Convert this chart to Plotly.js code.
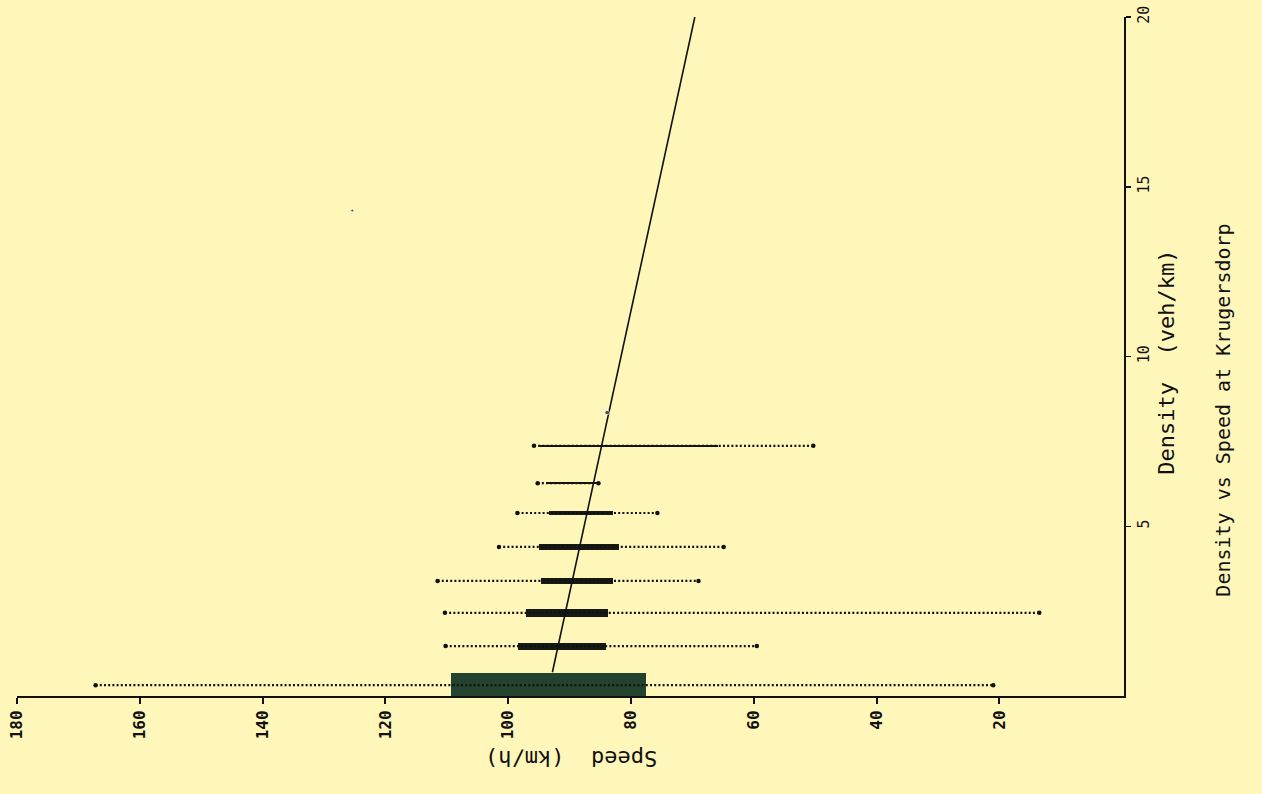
<!DOCTYPE html>
<html>
<head>
<meta charset="utf-8">
<script src="https://cdn.plot.ly/plotly-3.0.1.min.js"></script>
<style>
  html, body { margin: 0; padding: 0; background: #fff7b9; }
  #chart { width: 1262px; height: 794px; }
</style>
</head>
<body>
<div id="chart"></div>
<script>
// ---- data ----
const densityBins   = [0.32, 1.47, 2.45, 3.39, 4.39, 5.39, 6.27, 7.37];   // veh/km
const speedMaxWhisk = [167.2, 110.2, 110.3, 111.5, 101.5, 98.5, 95.2, 95.8]; // km/h
const speedUpperQ   = [109.3, 98.4, 97.1, 94.7, 95.0, 93.3, 93.5, 95.0];
const speedLowerQ   = [77.6, 84.1, 83.8, 82.9, 81.9, 83.0, 85.6, 65.9];
const speedMinWhisk = [21.0, 59.5, 13.5, 69.0, 64.9, 75.7, 85.3, 50.3];
const singleDensity = [8.35, 14.3];
const singleSpeed   = [83.9, 125.4];
const fitDensity    = [0.7, 20];
const fitSpeed      = [92.8, 69.6];
const speedTicks    = [20, 40, 60, 80, 100, 120, 140, 160, 180];
const densityTicks  = [5, 10, 15, 20];

// ---- presentation ----
const boxThickness = [0.72, 0.21, 0.24, 0.2, 0.15, 0.11, 0.08, 0.07];
const boxColors = densityBins.map((d, i) => i === 0 ? '#23432e' : '#161a14');

const wx = [], wy = [];
densityBins.forEach((d, i) => {
  wx.push(speedMaxWhisk[i], speedMinWhisk[i], null);
  wy.push(d, d, null);
});
const ex = [], ey = [];
densityBins.forEach((d, i) => {
  ex.push(speedMaxWhisk[i], speedMinWhisk[i]);
  ey.push(d, d);
});

const traces = [
  { type: 'scatter', mode: 'lines', x: wx, y: wy, hoverinfo: 'skip',
    line: { color: '#111', width: 2.2, dash: '2px,2.2px' }, connectgaps: false },
  { type: 'scatter', mode: 'markers', x: ex, y: ey, hoverinfo: 'skip',
    marker: { color: '#111', size: 4.5 } },
  { type: 'bar', orientation: 'h', y: densityBins,
    base: speedLowerQ, x: speedUpperQ.map((u, i) => u - speedLowerQ[i]),
    width: boxThickness, marker: { color: boxColors, line: { width: 0 } } },
  { type: 'scatter', mode: 'lines', x: fitSpeed, y: fitDensity,
    line: { color: '#111', width: 1.6 } },
  { type: 'scatter', mode: 'markers', x: singleSpeed, y: singleDensity,
    marker: { color: '#111', size: [4.5, 3] } }
];

const layout = {
  width: 1262, height: 794,
  paper_bgcolor: '#fff7b9', plot_bgcolor: '#fff7b9',
  showlegend: false,
  margin: { l: 17, r: 138, t: 17, b: 97.5 },
  bargap: 0,
  xaxis: {
    range: [180, -0.3], tickvals: speedTicks, ticktext: speedTicks.map(String),
    showgrid: false, zeroline: false,
    showline: true, linecolor: '#111', linewidth: 2, mirror: false,
    ticks: 'outside', ticklen: 6, tickwidth: 2, tickcolor: '#111',
    tickangle: -90,
    tickfont: { family: 'DejaVu Sans Mono', size: 16, color: '#111', weight: 'bold' }
  },
  yaxis: {
    range: [0, 20], side: 'right', tickvals: densityTicks, ticktext: densityTicks.map(String),
    showgrid: false, zeroline: false,
    showline: true, linecolor: '#111', linewidth: 1.6,
    ticks: 'outside', ticklen: 5, tickwidth: 1.5, tickcolor: '#111',
    tickangle: -90,
    tickfont: { family: 'DejaVu Sans Mono', size: 15, color: '#111' }
  },
  annotations: [
    { text: 'Speed  (km/h)', xref: 'paper', yref: 'paper', x: 0.501, y: -0.1126,
      showarrow: false, textangle: 180,
      font: { family: 'DejaVu Sans Mono', size: 22, color: '#111' } },
    { text: 'Density  (veh/km)', xref: 'paper', yref: 'paper', x: 1.0515, y: 0.4915,
      showarrow: false, textangle: -90,
      font: { family: 'DejaVu Sans Mono', size: 22, color: '#111' } },
    { text: 'Density vs Speed at Krugersdorp', xref: 'paper', yref: 'paper', x: 1.102, y: 0.4216,
      showarrow: false, textangle: -90,
      font: { family: 'DejaVu Sans Mono', size: 20, color: '#111' } }
  ]
};

Plotly.newPlot('chart', traces, layout, { staticPlot: true, displayModeBar: false });
</script>
</body>
</html>
